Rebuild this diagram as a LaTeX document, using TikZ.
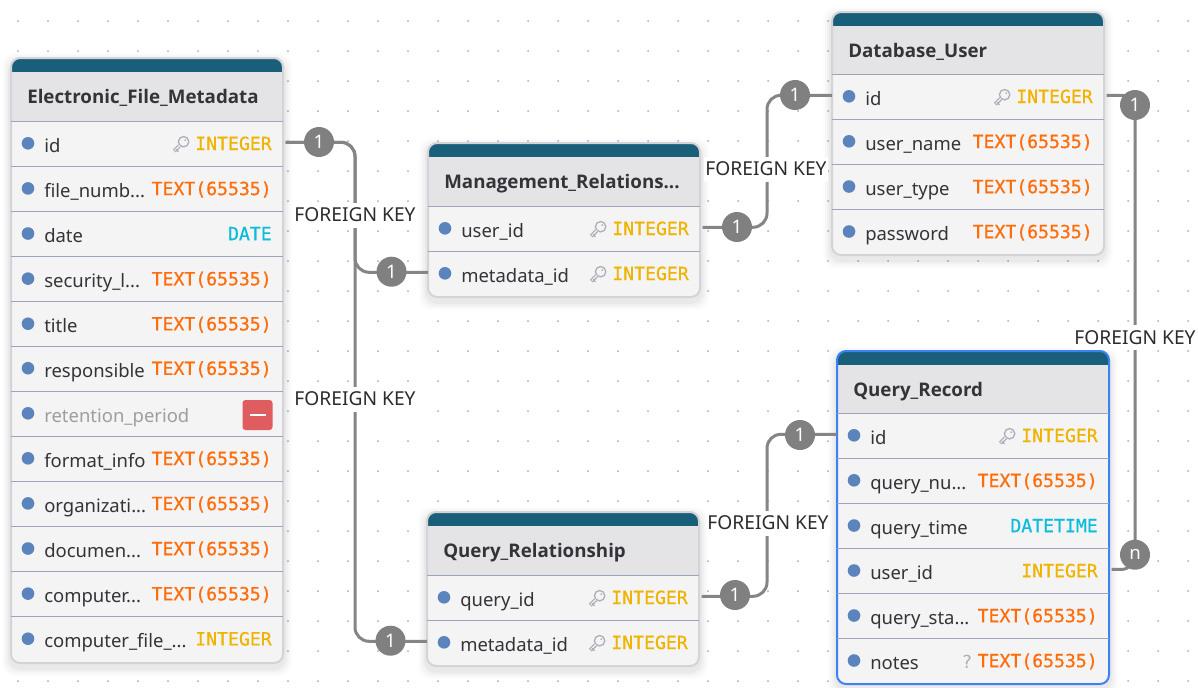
\documentclass[tikz,border=0pt]{standalone}
\usepackage{fontspec}
\setmainfont{Noto Sans}
\newfontfamily\monof{DejaVu Sans Mono}[FakeBold=0.7]
\newfontfamily\plainmono{DejaVu Sans Mono}
\newfontfamily\titlef{Open Sans}
\definecolor{barc}{HTML}{1A5F7A}
\definecolor{headc}{HTML}{E4E4E7}
\definecolor{bodyc}{HTML}{F4F4F5}
\definecolor{sepc}{HTML}{9CA5B9}
\definecolor{edgec}{HTML}{D4D4D8}
\definecolor{selc}{HTML}{3B82F6}
\definecolor{bulc}{HTML}{5B84BD}
\definecolor{txtc}{HTML}{333338}
\definecolor{orc}{HTML}{FF6D0A}
\definecolor{yec}{HTML}{F0B400}
\definecolor{cyc}{HTML}{0BBCDC}
\definecolor{wirec}{HTML}{858585}
\definecolor{dotc}{HTML}{8FB4D4}
\definecolor{keyc}{HTML}{AEAEB8}
\definecolor{minc}{HTML}{E05D5F}
\def\px{0.75pt}
\tikzset{
  wire/.style={draw=wirec,line width=3*\px,rounded corners=14*\px},
  badge/.style={circle,fill=wirec!96!black,text=white,minimum size=30*\px,inner sep=0pt,font=\fontsize{14}{16}\selectfont},
  fklabel/.style={fill=white,text=txtc!85!black,inner sep=0pt,minimum width=124*\px,minimum height=25*\px,font=\fontsize{14.4}{16}\selectfont},
  titletext/.style={anchor=base west,inner sep=0pt,text=txtc,font=\fontsize{14.05}{16}\selectfont\titlef\bfseries},
  fieldtext/.style={anchor=base west,inner sep=0pt,text=txtc,font=\fontsize{13.85}{16}\selectfont},
  typetext/.style={anchor=base east,inner sep=0pt,font=\fontsize{13.6}{16}\selectfont\monof},
  rowbox/.style={anchor=north west,inner sep=0pt,minimum width=272*\px,minimum height=45.1*\px}
}
% #1 id, #2 left, #3 top, #4 first separator, #5 bottom, #6 title, #7 border colour
\newcommand{\tablebox}[7]{
  \foreach \s/\o in {9/0.012,7/0.018,5/0.022,3/0.03}{
    \fill[black,opacity=\o,rounded corners=12*\px] ({#2-\s},{#3-\s+4}) rectangle ({#2+272+\s},{#5+\s+4});
  }
  \begin{scope}
    \clip[rounded corners=9*\px] (#2,#3) rectangle ({#2+272},#5);
    \fill[bodyc] (#2,#3) rectangle ({#2+272},#5);
    \fill[headc] (#2,#3) rectangle ({#2+272},#4);
    \fill[barc] (#2,#3) rectangle ({#2+272},{#3+14});
  \end{scope}
  \draw[#7,line width=2*\px,rounded corners=9*\px] (#2,#3) rectangle ({#2+272},#5);
  \node[titletext] (#1) at ({#2+16},{#3+45.3}) {#6};
}
% #1 id, #2 left, #3 top, #4 label, #5 type, #6 colour
\newcommand{\fieldrow}[6]{
  \draw[sepc,line width=1*\px] (#2,#3) -- ({#2+272},#3);
  \node[rowbox] (#1) at (#2,#3) {};
  \coordinate (#1-e) at ([xshift=2*\px,yshift=1.85*\px]#1.east);
  \coordinate (#1-w) at ([yshift=1.85*\px]#1.west);
  \fill[bulc] ({#2+17},{#3+22}) circle (6.3);
  \node[fieldtext] (#1-l) at ({#2+33},{#3+30.8}) {#4};
  \node[typetext,text=#6] (#1-t) at ({#2+261},{#3+28.7}) {#5};
}
\newcommand{\keyicon}[2]{
  \begin{scope}[shift={(#1,#2)}]
    \draw[keyc,line width=1.3*\px,fill=bodyc] (172.6,20.4) circle (5.2);
    \draw[keyc,line width=3.8*\px] (168.6,24.4) -- (163.2,29.8);
    \draw[bodyc,line width=1.2*\px] (168.8,24.2) -- (163.8,29.2);
    \draw[keyc,line width=1.3*\px] (165,28) -- (167.5,30.5);
    \fill[keyc] (174.2,18.8) circle (1);
  \end{scope}
}
\begin{document}
\begin{tikzpicture}[x=0.75pt,y=-0.75pt]
\useasboundingbox (0,0) rectangle (1198,687);
\fill[white] (0,0) rectangle (1198,687);
\foreach \i in {0,...,39}{\foreach \j in {0,...,22}{
  \fill[dotc] ({18+30*\i},{21+30*\j}) circle (1);
}}

% Electronic_File_Metadata
\tablebox{tA}{11}{58}{121.3}{663}{Electronic\_File\_Metadata}{edgec}
\fieldrow{aid}{11}{121.3}{id}{INTEGER}{yec}\keyicon{11}{121.3}
\fieldrow{afile}{11}{166.4}{file\_numb...}{TEXT(65535)}{orc}
\fieldrow{adate}{11}{211.5}{date}{DATE}{cyc}
\fieldrow{asec}{11}{256.6}{security\_l...}{TEXT(65535)}{orc}
\fieldrow{atitle}{11}{301.7}{title}{TEXT(65535)}{orc}
\fieldrow{aresp}{11}{346.2}{responsible}{TEXT(65535)}{orc}
\draw[sepc,line width=1*\px] (11,391.3) -- (283,391.3);
\node[rowbox] (aret) at (11,391.3) {};
\fill[bulc] (28,413.3) circle (6.3);
\node[fieldtext,text=black!38] (aret-l) at (44,422.1) {retention\_period};
\node[fill=minc,rounded corners=3*\px,minimum width=30*\px,minimum height=30*\px,inner sep=0pt] (aret-m) at (257.5,415) {};
\draw[white,line width=2.6*\px] (249.5,415) -- (265.5,415);
\fieldrow{afmt}{11}{436.3}{format\_info}{TEXT(65535)}{orc}
\fieldrow{aorg}{11}{481.4}{organizati...}{TEXT(65535)}{orc}
\fieldrow{adoc}{11}{526.5}{documen...}{TEXT(65535)}{orc}
\fieldrow{acomp}{11}{571.6}{computer...}{TEXT(65535)}{orc}
\fieldrow{acf}{11}{616.7}{computer\_file\_...}{INTEGER}{yec}

% Management_Relationship
\tablebox{tB}{428}{143}{206.3}{297}{Management\_Relations...}{edgec}
\fieldrow{buser}{428}{206.3}{user\_id}{INTEGER}{yec}\keyicon{428}{206.3}
\fieldrow{bmeta}{428}{251.3}{metadata\_id}{INTEGER}{yec}\keyicon{428}{251.3}

% Database_User
\tablebox{tC}{832}{12}{74.3}{255}{Database\_User}{edgec}
\fieldrow{cid}{832}{74.3}{id}{INTEGER}{yec}\keyicon{832}{74.3}
\fieldrow{cname}{832}{119.3}{user\_name}{TEXT(65535)}{orc}
\fieldrow{ctype}{832}{164.5}{user\_type}{TEXT(65535)}{orc}
\fieldrow{cpass}{832}{209.5}{password}{TEXT(65535)}{orc}

% Query_Relationship
\tablebox{tD}{427}{512}{575.3}{666}{Query\_Relationship}{edgec}
\fieldrow{dq}{427}{575.3}{query\_id}{INTEGER}{yec}\keyicon{427}{575.3}
\fieldrow{dmeta}{427}{620.3}{metadata\_id}{INTEGER}{yec}\keyicon{427}{620.3}

% Query_Record
\tablebox{tE}{837}{351}{413.3}{684}{Query\_Record}{selc}
\fieldrow{eid}{837}{413.3}{id}{INTEGER}{yec}\keyicon{837}{413.3}
\fieldrow{enum}{837}{458.3}{query\_nu...}{TEXT(65535)}{orc}
\fieldrow{etime}{837}{503.5}{query\_time}{DATETIME}{cyc}
\fieldrow{euser}{837}{548.5}{user\_id}{INTEGER}{yec}
\fieldrow{esta}{837}{593.5}{query\_sta...}{TEXT(65535)}{orc}
\fieldrow{enote}{837}{638.5}{notes}{TEXT(65535)}{orc}
\node[anchor=base,inner sep=0pt,text=keyc,font=\fontsize{13.5}{15}\selectfont\plainmono] (enote-q) at (967,668) {?};

% connectors
\coordinate (busA) at (355,142);
\coordinate (busB) at (767,227);
\coordinate (busC) at (767,595);
\coordinate (busD) at (1135,300);
\draw[wire] (aid-e) -- (aid-e -| busA) -- (bmeta-w -| busA) -- (bmeta-w);
\draw[wire] (aid-e) -- (aid-e -| busA) -- (dmeta-w -| busA) -- (dmeta-w);
\draw[wire] (buser-e) -- (buser-e -| busB) -- (cid-w -| busB) -- (cid-w);
\draw[wire] (dq-e) -- (dq-e -| busC) -- (eid-w -| busC) -- (eid-w);
\draw[wire] (cid-e) -- (cid-e -| busD) -- (euser-e -| busD) -- (euser-e);

\node[fklabel] (fk1) at (355,215) {FOREIGN KEY};
\node[fklabel] (fk2) at (355,399) {FOREIGN KEY};
\node[fklabel] (fk3) at (766,169) {FOREIGN KEY};
\node[fklabel] (fk4) at (768,523) {FOREIGN KEY};
\node[fklabel] (fk5) at (1135,337.5) {FOREIGN KEY};

\node[badge] (b1) at (319,142) {1};
\node[badge] (b2) at (391.5,271.7) {1};
\node[badge] (b3) at (390.5,640.7) {1};
\node[badge] (b4) at (737,227) {1};
\node[badge] (b5) at (795,95) {1};
\node[badge] (b6) at (735,595) {1};
\node[badge] (b7) at (800,435) {1};
\node[badge] (b8) at (1135,105) {1};
\node[badge] (b9) at (1135,554.7) {n};
\end{tikzpicture}
\end{document}
